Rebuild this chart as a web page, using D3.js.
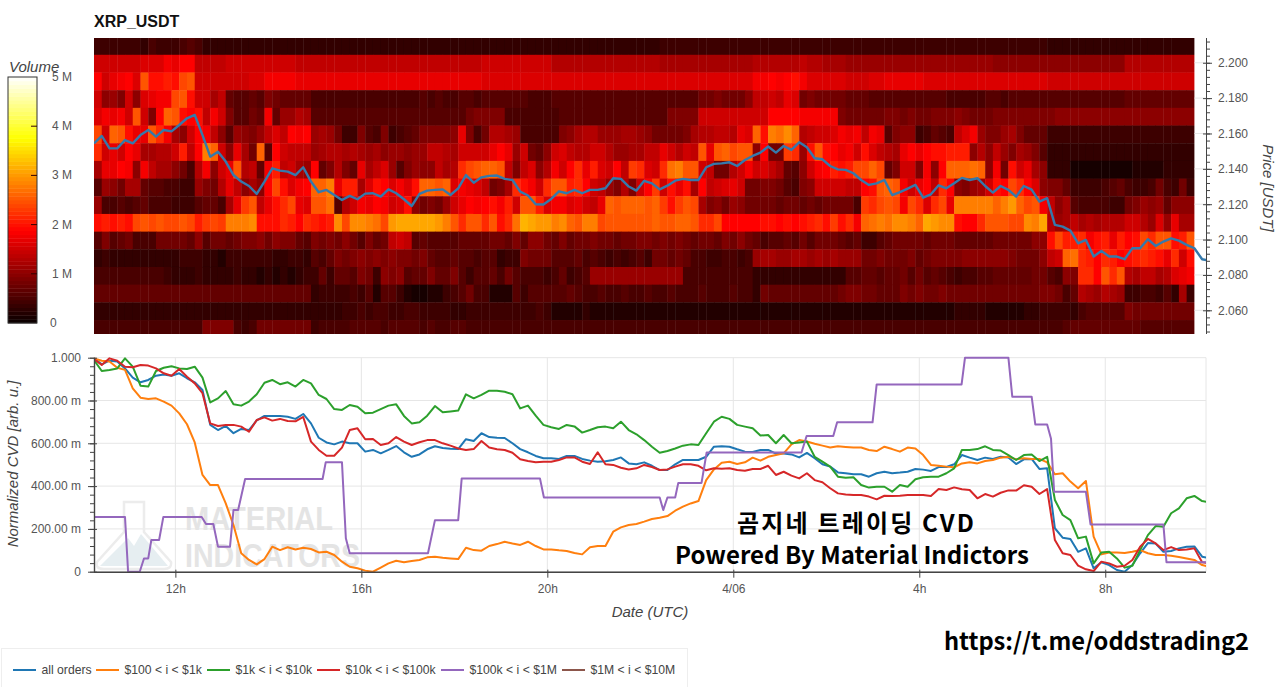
<!DOCTYPE html>
<html>
<head>
<meta charset="utf-8">
<title>XRP_USDT</title>
<script src="https://cdn.jsdelivr.net/npm/d3@7"></script>
<style>
	html, body { margin: 0; background: #fff; overflow: hidden; }
	text { font-family: 'Liberation Sans', Arial, sans-serif; fill: #444; }
	.domain { stroke: #444; }
	.tick line { stroke: #444; }
	.tick text { font-size: 12px; fill: #555; font-family: 'Liberation Sans', Arial, sans-serif; }
	.grid line { stroke: #e6e6e6; }
	.caption { font-family: 'Noto Sans CJK KR', sans-serif; font-weight: 700; fill: #000; }
</style>
</head>
<body>
<svg id="chart" width="1280" height="687"></svg>
<script>
// volume per price bin, one row per bin from the top, 10 minute columns, unit 0.1 M
const heat00 = [4,4,4,4,4,4,3,5,4,4,4,5,6,5,3,3,3,3,3,3,3,3,3,3,3,3,3,3,3,3,3,3,3,3,3,3,3,3,3,3,3,3,3,3,3,3,3,3,3,3,3,3,3,3,3,3,3,3,3,3,3,3,3,3,3,3,3,3,3,3,3,3,3,4,4,4,4,4,4,4,4,4,4,4,4,4,4,4,4,4,4,4,4,4,4,4,4,4,4,4,4,4,4,4,4,4,4,4,4,4,4,4,4,4,4,4,4,4,4,4,4,4,4,3,3,3,3,3,3,3,3,3,3,3,3,3,3,3,3,3,3,3];
const heat01 = [15,15,15,15,15,15,16,16,16,18,17,19,19,14,14,14,14,15,15,15,15,15,15,15,15,15,14,14,14,14,14,14,14,14,14,14,14,14,14,14,14,14,14,14,14,14,14,14,14,14,15,15,15,15,15,15,15,15,15,13,13,13,13,13,13,13,13,13,13,13,13,13,13,12,12,12,12,12,12,12,12,12,12,12,12,13,13,13,13,13,13,14,13,13,12,12,12,11,11,11,11,11,11,11,11,11,11,11,11,11,11,11,11,11,11,11,10,10,10,10,10,10,10,10,10,10,10,10,10,10,10,10,10,13,13,13,13,13,13,13,13,13];
const heat02 = [19,15,17,18,19,16,25,20,20,21,20,24,25,15,15,15,15,15,15,15,16,16,18,18,18,18,17,17,17,17,17,17,17,17,17,17,17,17,17,17,17,17,17,17,17,17,17,17,17,17,16,16,16,16,16,16,16,16,16,16,16,16,16,16,16,16,16,16,16,16,16,16,16,16,16,16,16,16,16,16,16,16,16,16,16,18,18,19,18,19,20,18,16,16,16,16,16,15,15,15,16,16,17,17,17,17,17,16,16,16,16,16,16,16,16,16,16,16,16,16,16,16,16,15,15,15,15,15,15,15,15,15,15,15,15,15,15,15,15,15,15,15];
const heat03 = [15,10,11,9,15,10,16,17,18,18,24,25,20,15,15,12,14,7,6,6,7,6,9,8,7,7,7,7,5,5,5,5,5,5,5,5,5,5,5,5,5,5,6,5,6,5,5,6,6,5,6,6,6,6,6,6,5,5,5,6,6,6,6,6,6,6,6,6,6,6,6,6,6,6,6,6,6,6,8,8,9,8,8,8,10,14,14,15,14,17,16,8,9,8,8,8,8,7,7,7,6,6,6,6,6,6,6,6,6,6,5,5,5,5,5,6,6,5,6,6,6,6,6,6,6,6,6,6,6,6,6,6,6,7,7,7,7,7,7,7,7,7];
const heat04 = [16,18,17,18,15,25,15,9,19,26,25,20,19,20,14,18,15,9,6,6,8,7,18,7,11,11,13,12,6,6,6,6,6,6,6,6,6,6,6,6,6,6,6,6,6,6,6,6,8,9,9,9,9,5,5,5,5,5,5,5,6,6,6,6,6,6,6,6,6,6,6,6,6,6,9,9,9,9,15,15,15,15,15,15,15,15,15,19,19,19,19,18,18,18,18,18,9,8,8,8,8,8,9,9,8,9,8,8,9,9,9,10,9,8,8,8,9,9,9,9,9,9,9,9,10,10,10,10,10,10,10,10,10,10,10,10,10,10,10,10,10,10];
const heat05 = [24,15,26,25,20,17,17,25,22,18,12,10,15,19,18,14,10,6,11,10,9,11,14,16,14,19,18,19,11,12,11,8,4,4,9,6,5,9,4,5,6,7,9,9,9,9,10,17,9,5,8,13,13,12,11,5,5,5,5,5,9,10,12,13,13,11,11,11,12,12,11,10,8,8,8,8,9,12,13,13,14,14,13,17,16,26,20,28,27,29,26,13,14,15,15,16,18,17,18,14,18,17,6,9,10,10,4,5,7,6,5,14,16,18,11,9,9,11,12,9,7,7,7,4,4,4,4,4,4,4,4,4,4,4,4,4,4,4,4,4,4,4];
const heat06 = [22,15,17,15,19,17,12,12,13,13,15,21,14,19,28,26,15,10,17,12,8,26,6,19,15,14,14,14,11,12,13,13,12,13,12,11,12,10,11,11,10,11,11,14,14,13,12,15,15,15,15,17,19,17,11,15,8,7,10,15,16,14,13,13,15,15,13,11,11,12,12,14,14,17,15,13,15,14,25,17,25,26,24,25,25,10,19,8,8,23,22,11,20,25,20,19,17,18,15,20,16,14,13,12,17,19,17,19,20,20,21,21,21,10,13,10,14,11,9,12,11,9,6,3,3,3,3,3,3,3,3,3,3,3,3,3,3,3,3,3,3,3];
const heat07 = [12,17,17,19,18,10,18,14,12,12,10,8,5,13,18,10,15,17,25,13,14,7,18,21,14,15,12,11,19,7,9,13,9,7,17,12,14,16,11,6,9,11,10,10,14,12,13,22,24,25,26,26,25,14,9,14,16,10,13,18,15,19,22,17,21,16,15,19,14,23,22,16,15,22,27,28,25,25,15,14,8,8,13,15,18,15,16,14,12,7,6,10,15,18,19,21,20,21,24,24,26,24,7,9,15,15,9,18,10,19,26,26,26,27,26,10,18,8,20,15,17,12,10,3,3,3,1,1,1,1,1,1,1,1,2,2,2,2,3,3,3,3];
const heat08 = [6,11,10,8,12,12,7,6,6,5,5,4,4,11,9,8,13,17,14,10,12,10,19,24,20,16,18,19,26,26,28,17,21,21,12,16,20,19,16,18,16,20,26,26,25,26,16,18,17,16,14,8,9,12,22,20,18,15,22,25,25,21,22,19,15,14,11,9,13,9,15,19,23,15,20,17,20,12,19,14,15,16,17,15,8,8,9,9,8,6,5,9,10,15,15,15,15,14,14,19,20,25,26,25,18,15,17,19,14,22,19,10,9,11,12,15,20,19,24,22,19,16,10,9,9,7,4,4,4,4,5,6,7,5,4,4,5,8,5,4,8,4];
const heat09 = [11,5,5,6,5,6,7,5,5,5,4,4,4,6,7,7,5,12,17,23,25,14,17,20,22,24,17,16,25,25,27,6,13,15,18,17,19,18,15,16,20,10,8,9,8,11,15,17,19,18,19,20,18,21,15,25,25,21,16,18,18,16,17,15,14,17,26,25,26,26,26,25,26,23,20,23,25,24,12,9,10,8,11,10,8,8,8,8,7,8,8,7,8,7,8,8,8,8,5,23,22,24,25,24,18,24,22,16,22,24,17,28,28,28,28,28,26,28,30,26,24,25,18,14,10,12,6,5,5,5,5,4,4,8,9,11,10,11,7,10,10,10];
const heat10 = [20,21,20,21,20,24,25,24,25,24,24,25,24,21,23,24,23,28,28,28,29,20,20,20,22,21,19,22,21,20,21,29,24,29,29,28,27,24,30,31,31,31,31,31,30,28,25,22,25,25,22,25,20,22,27,32,31,30,30,28,29,26,25,28,28,24,25,25,25,25,25,25,26,25,25,26,26,25,22,22,24,19,19,19,19,19,20,20,19,20,19,20,21,22,20,23,20,22,18,26,27,28,27,29,29,28,26,31,30,29,29,20,19,19,22,25,25,25,24,24,29,28,31,13,11,12,14,12,13,12,13,13,13,15,15,13,11,16,11,17,12,12];
const heat11 = [6,9,6,7,8,5,5,5,8,8,8,8,7,10,6,8,8,7,8,9,9,10,8,10,9,9,7,6,9,8,9,8,10,8,6,9,7,8,14,15,14,6,7,6,6,6,6,7,7,7,7,8,8,7,9,7,10,10,8,7,9,7,8,8,9,8,8,7,8,8,9,9,8,9,8,9,8,7,8,8,7,9,8,10,8,7,5,6,6,7,6,8,6,8,8,8,7,6,7,4,4,6,7,8,8,8,8,7,8,8,8,7,7,7,7,7,8,8,8,8,8,10,10,20,24,21,21,22,18,20,21,17,21,19,20,24,22,25,25,20,21,25];
const heat12 = [3,4,3,3,3,3,3,3,3,3,3,4,4,4,3,3,2,4,4,4,4,4,4,3,3,4,4,3,6,5,7,9,8,9,10,9,10,9,10,9,9,8,9,7,6,6,7,6,6,5,6,6,3,4,4,9,8,8,8,6,6,6,7,5,6,5,4,5,4,5,6,4,8,8,7,8,7,5,5,4,4,5,5,4,5,11,12,12,11,11,12,12,11,12,11,12,11,11,11,8,8,9,8,8,8,9,7,8,9,9,9,9,10,10,10,10,10,10,9,8,8,8,10,14,15,26,27,22,21,19,22,21,19,20,21,22,21,20,17,22,15,20];
const heat13 = [5,5,5,5,5,5,5,5,5,4,3,3,3,4,3,3,3,3,4,3,3,2,3,2,3,2,3,4,4,7,4,7,7,6,9,8,4,10,9,10,6,7,7,9,7,7,9,6,4,6,6,7,5,8,6,5,5,5,4,5,7,4,5,6,11,11,11,11,11,11,11,11,11,11,11,11,5,5,5,5,5,5,5,5,5,3,3,3,3,3,3,3,3,3,3,3,3,6,6,7,7,6,7,7,8,6,8,6,7,6,5,4,5,5,6,6,7,7,7,7,7,8,8,6,5,10,9,22,22,19,25,22,25,13,12,14,14,12,13,16,17,18];
const heat14 = [7,7,7,7,7,7,7,7,7,7,7,7,7,7,7,7,7,7,7,7,7,7,7,7,7,7,7,7,3,4,4,4,4,5,4,6,2,6,6,4,2,1,1,2,2,4,5,6,8,5,5,2,2,2,6,4,6,6,6,6,6,7,6,5,5,6,5,5,6,5,5,6,5,5,6,5,5,5,6,5,5,5,6,5,5,3,8,7,7,7,7,7,7,7,7,7,8,9,9,8,8,7,7,7,9,8,9,8,8,9,8,8,8,8,8,8,8,8,8,8,8,8,9,9,8,5,7,13,12,11,13,12,11,4,4,5,5,4,6,3,12,4];
const heat15 = [3,3,3,3,3,3,3,3,3,3,3,3,3,3,3,3,3,3,3,3,3,3,3,3,3,3,3,3,3,3,3,3,4,4,5,4,5,5,4,4,5,5,4,4,4,4,3,3,4,4,4,4,4,4,4,4,4,5,4,2,2,2,2,3,2,2,2,2,2,2,2,2,2,2,2,2,2,2,2,2,2,2,2,2,2,2,2,2,2,2,2,2,2,2,2,2,2,2,2,2,2,2,2,2,2,2,2,2,2,2,2,3,3,3,3,2,2,2,2,2,3,3,4,4,4,4,3,5,6,6,6,6,6,9,8,8,8,8,8,8,8,8];
const heat16 = [5,5,5,5,5,5,5,5,5,5,5,5,5,5,9,9,9,9,5,4,5,8,8,8,8,8,8,8,4,5,5,5,5,6,6,6,6,5,6,6,6,6,5,6,5,5,6,6,5,5,5,5,5,5,5,5,5,5,5,5,5,5,5,5,5,5,5,5,5,5,5,5,5,5,5,5,5,5,5,5,5,5,5,5,5,5,5,5,5,5,5,5,5,5,5,5,5,5,5,5,5,5,5,5,5,5,5,5,5,5,5,5,5,5,5,5,5,5,5,5,5,5,5,5,5,6,7,7,7,7,7,7,7,7,7,6,6,6,6,6,6,6];
const heatRows = [heat00, heat01, heat02, heat03, heat04, heat05, heat06, heat07, heat08, heat09, heat10, heat11, heat12, heat13, heat14, heat15, heat16];

// every 10 minutes from 10:15
const price = [2.1544,2.1586,2.1516,2.1516,2.1563,2.1544,2.1591,2.1620,2.1582,2.1620,2.1612,2.1648,2.1686,2.1705,2.1591,2.1469,2.1497,2.1441,2.1365,2.1328,2.1303,2.1258,2.1328,2.1403,2.1390,2.1384,2.1365,2.1409,2.1328,2.1268,2.1281,2.1252,2.1224,2.1247,2.1228,2.1260,2.1262,2.1243,2.1284,2.1262,2.1228,2.1190,2.1258,2.1277,2.1281,2.1284,2.1252,2.1290,2.1365,2.1322,2.1352,2.1360,
	2.1362,2.1343,2.1337,2.1271,2.1249,2.1200,2.1198,2.1230,2.1273,2.1262,2.1281,2.1262,2.1281,2.1281,2.1290,2.1347,2.1343,2.1300,2.1277,2.1332,2.1318,2.1284,2.1305,2.1333,2.1343,2.1337,2.1337,2.1409,2.1428,2.1431,2.1437,2.1416,2.1450,2.1473,2.1492,2.1526,2.1492,2.1529,2.1507,2.1550,2.1522,2.1460,2.1454,2.1416,2.1397,2.1394,2.1375,2.1337,2.1309,2.1318,
	2.1337,2.1252,2.1268,2.1288,2.1309,2.1237,2.1256,2.1307,2.1290,2.1318,2.1349,2.1337,2.1347,2.1303,2.1266,2.1303,2.1281,2.1243,2.1303,2.1283,2.1215,2.1234,2.1083,2.1073,2.1051,2.0979,2.0998,2.0904,2.0936,2.0904,2.0904,2.0889,2.0951,2.0951,2.1002,2.0964,2.0989,2.1007,2.0994,2.0970,2.0951,2.0889,2.0881];

// normalized CVD in milli units, same 10 minute steps
const allOrders = [997,969,986,982,950,907,885,896,916,922,916,927,904,885,849,686,662,681,647,667,662,707,728,728,728,724,714,737,693,626,604,595,608,600,600,561,569,553,569,587,558,537,548,572,
	586,578,575,573,619,611,647,629,626,625,600,573,558,541,530,530,527,541,541,527,519,514,516,522,534,506,502,511,495,475,475,502,522,522,522,537,584,586,584,572,561,559,569,569,552,552,548,534,555,530,502,491,464,460,455,
	455,444,460,467,460,463,467,480,477,471,489,489,502,545,533,522,533,527,537,534,503,525,527,480,483,203,159,153,93,109,16,44,31,8,0,31,86,134,132,93,97,109,117,118,70,62];
const range100 = [997,986,982,953,943,857,813,807,810,795,776,740,689,604,452,405,405,319,218,86,55,34,59,117,101,114,104,112,106,90,93,78,47,23,16,5,0,19,39,51,44,50,55,67,
	70,65,62,59,112,101,98,120,129,140,132,125,140,120,104,104,100,97,87,81,114,120,120,187,207,218,223,234,246,252,260,285,304,319,330,428,478,509,514,503,511,533,519,537,545,553,595,615,608,598,589,580,586,583,580,
	580,569,564,584,573,561,580,576,545,499,495,491,488,506,511,506,517,522,533,537,525,530,527,527,511,455,460,421,390,424,164,81,90,90,87,93,101,86,78,78,75,69,62,55,31,23];
const range1k = [989,938,943,950,997,958,869,865,938,953,960,950,947,958,907,791,810,844,782,776,795,829,883,896,876,885,865,896,880,826,807,760,756,779,771,740,743,760,776,782,728,693,698,729,
	774,745,749,753,829,810,826,846,846,841,829,763,776,729,686,675,667,686,679,650,662,675,678,670,701,662,642,615,584,556,564,576,589,595,592,647,701,724,714,686,678,670,636,639,600,639,600,604,608,537,514,491,444,439,441,
	405,393,397,397,374,405,397,432,441,444,444,460,483,569,569,573,586,569,566,545,522,545,548,517,537,335,265,241,156,164,39,90,93,62,19,28,101,171,213,210,273,296,343,354,330,324];
const range10k = [994,966,997,986,958,955,966,963,950,927,916,947,911,880,834,693,681,686,686,678,654,709,721,706,714,704,703,723,608,569,542,542,580,662,670,619,620,592,600,629,608,592,605,615,
	615,600,589,576,569,573,611,580,572,569,556,525,517,511,514,514,522,534,534,514,503,558,502,499,486,478,483,499,489,475,478,491,502,502,495,474,483,481,483,475,472,480,480,495,452,467,449,436,460,428,418,390,366,361,358,
	358,351,338,355,354,355,358,358,358,354,386,382,394,385,382,343,363,351,369,380,379,404,397,363,386,148,86,78,28,11,3,47,39,23,28,55,117,153,132,101,115,101,104,109,44,39];
// step-like series, kept as minutes from the start plus level at that minute
const range100kMin = [0,40,44,59,64.5,70,74,84,89.5,139,144.5,154,160,175.5,180,186,195,295,299,320,325,330,431,440,470,474.5,575.5,580.6,730,734.6,740,750,754,784,790.6,913,919.6,954,959,1004.7,1010,1119.6,1124,1180,1185,1210,1214.7,1230,1235,1239,1280,1286,1380,1384,1435];
const range100k = [256,256,0,0,62,62,148,148,256,256,223,223,117,117,288,288,433,433,511,511,156,86,86,241,241,436,436,347,347,288,347,347,415,415,557,557,634,634,698,698,875,875,1000,1000,818,818,688,688,621,374,374,221,221,44,44];
const range1M = [];

const seriesNames = ['all orders', '$100 < i < $1k', '$1k < i < $10k', '$10k < i < $100k', '$100k < i < $1M', '$1M < i < $10M'];
const seriesColors = ['#1f77b4', '#ff7f0e', '#2ca02c', '#d62728', '#9467bd', '#8c564b'];
const legendLineX = [13, 96, 207, 317, 441, 562];

const priceTicks = [2.06, 2.08, 2.10, 2.12, 2.14, 2.16, 2.18, 2.20];
const cvdTicks = [0, 200, 400, 600, 800, 1000];
const cvdTickLabels = ['0', '200.00 m', '400.00 m', '600.00 m', '800.00 m', '1.000'];
const timeTicks = [105, 345, 585, 825, 1065, 1305];
const timeTickLabels = ['12h', '16h', '20h', '4/06', '4h', '8h'];
const volumeTicks = [0, 1, 2, 3, 4, 5];
const volumeTickLabels = ['0', '1 M', '2 M', '3 M', '4 M', '5 M'];

const BIN_SIZE = 0.01;
const FIRST_BIN_TOP = 2.2145;
const STEP_MIN = 10;

const scale = {
	x: d3.scaleLinear().domain([0, 1435]).range([94, 1206]),
	price: d3.scaleLinear().domain([2.214, 2.0466]).range([38, 334]),
	cvd: d3.scaleLinear().domain([0, 1000]).range([571.7, 357.7]),
	volume: d3.scaleLinear().domain([0, 5]).range([323, 77]),
	color: d3.scaleLinear()
		.domain([0, 1.875, 3.75, 5])
		.range(['#080000', '#ff0000', '#ffff00', '#ffffff'])
		.clamp(true)
};

const $svg = d3.select('#chart');

function setupDefs() {
	const $defs = $svg.append('defs');
	$defs.append('clipPath').attr('id', 'clip-top')
		.append('rect').attr('x', 94).attr('y', 38).attr('width', 1112).attr('height', 296);
	$defs.append('clipPath').attr('id', 'clip-heat')
		.append('rect').attr('x', 94).attr('y', 38).attr('width', 1100.4).attr('height', 296);
	$defs.append('clipPath').attr('id', 'clip-bottom')
		.append('rect').attr('x', 94).attr('y', 354).attr('width', 1112).attr('height', 218);
	// the reference is a soft screenshot, cells bleed a little into each other
	$defs.append('filter').attr('id', 'soft')
		.attr('filterUnits', 'userSpaceOnUse')
		.attr('x', 80).attr('y', 20).attr('width', 1140).attr('height', 330)
		.append('feGaussianBlur').attr('stdDeviation', '0.7 0.4');
}

function renderHeatmap() {
	const $clip = $svg.append('g').attr('clip-path', 'url(#clip-heat)');
	const $heat = $clip.append('g').attr('filter', 'url(#soft)');
	const cellW = scale.x(STEP_MIN) - scale.x(0);
	heatRows.forEach((row, r) => {
		const top = FIRST_BIN_TOP - r * BIN_SIZE;
		$heat.append('g').selectAll('rect').data(row).join('rect')
			.attr('x', (d, i) => scale.x(i * STEP_MIN) - (i === 0 ? 3 : 0))
			.attr('y', scale.price(top) - (r === 0 ? 4 : 0))
			.attr('width', (d, i) => cellW + (i === row.length - 1 ? 3 : 0.4) + (i === 0 ? 3 : 0))
			.attr('height', scale.price(top - BIN_SIZE) - scale.price(top) + (r === 16 ? 4 : 0.4) + (r === 0 ? 4 : 0))
			.attr('fill', d => scale.color(d / 10));
	});

	const line = d3.line()
		.x((d, i) => scale.x(i * STEP_MIN))
		.y(d => scale.price(d));
	$svg.append('g').attr('clip-path', 'url(#clip-top)')
		.append('path')
		.attr('d', line(price))
		.attr('fill', 'none')
		.attr('stroke', '#3579ab')
		.attr('stroke-width', 2.4)
		.attr('stroke-linejoin', 'round');
}

function renderPriceAxis() {
	const $grid = $svg.append('g').attr('class', 'grid');
	$grid.selectAll('line').data(priceTicks).join('line')
		.attr('x1', 1194.5).attr('x2', 1206)
		.attr('y1', d => scale.price(d)).attr('y2', d => scale.price(d));

	const minor = d3.range(2.048, 2.2145, 0.004);
	const $minor = $svg.append('g').attr('transform', 'translate(1206,0)')
		.call(d3.axisRight(scale.price).tickValues(minor).tickSize(4).tickFormat(''));
	$minor.select('.domain').remove();

	const $axis = $svg.append('g').attr('transform', 'translate(1206,0)')
		.call(d3.axisRight(scale.price).tickValues(priceTicks).tickSize(6).tickPadding(6).tickFormat(d3.format('.3f')));
	$axis.selectAll('.tick line').attr('x1', -3);
	$axis.select('.domain').attr('d', 'M0.5,38V334');

	$svg.append('text')
		.attr('transform', 'translate(1263,188) rotate(90)')
		.attr('text-anchor', 'middle')
		.attr('font-size', 15)
		.attr('font-style', 'italic')
		.text('Price [USDT]');
}

function renderColorbar() {
	const steps = d3.range(0, 5, 5 / 64);
	$svg.append('g').selectAll('rect').data(steps).join('rect')
		.attr('x', 8).attr('width', 29)
		.attr('y', d => scale.volume(d + 5 / 64))
		.attr('height', scale.volume(0) - scale.volume(5 / 64) + 0.4)
		.attr('fill', d => scale.color(d + 2.5 / 64));
	$svg.append('rect')
		.attr('x', 8).attr('y', 77).attr('width', 29).attr('height', 246)
		.attr('fill', 'none').attr('stroke', '#333');

	$svg.append('g').selectAll('line').data(volumeTicks.slice(1, -1)).join('line')
		.attr('x1', 31).attr('x2', 37)
		.attr('y1', d => scale.volume(d)).attr('y2', d => scale.volume(d))
		.attr('stroke', '#300');
	$svg.append('g').selectAll('text').data(volumeTicks).join('text')
		.attr('x', d => d === 0 ? 50 : 52)
		.attr('y', d => scale.volume(d) + 4)
		.attr('font-size', 12)
		.style('fill', '#555')
		.text((d, i) => volumeTickLabels[i]);
	$svg.append('text')
		.attr('x', 9).attr('y', 72)
		.attr('font-size', 15)
		.attr('font-style', 'italic')
		.text('Volume');
}

function renderWatermark() {
	const $mark = $svg.append('g');
	$mark.append('path')
		.attr('d', 'M100,566 L128,538 L134,546 L141,534 L168,566 Z')
		.attr('fill', '#e6eef1');
	$mark.append('path')
		.attr('d', 'M124,502 H144 V532 L171,562 Q172,569 164,569 H104 Q95,569 97,562 L124,532 Z')
		.attr('fill', 'none')
		.attr('stroke', '#ececec')
		.attr('stroke-width', 2.5);
	$mark.append('text').attr('x', 185).attr('y', 530)
		.attr('font-size', 33).attr('font-weight', 700)
		.attr('textLength', 148).attr('lengthAdjust', 'spacingAndGlyphs')
		.style('fill', '#e4e4e4')
		.text('MATERIAL');
	$mark.append('text').attr('x', 185).attr('y', 567)
		.attr('font-size', 33).attr('font-weight', 700)
		.attr('textLength', 175).attr('lengthAdjust', 'spacingAndGlyphs')
		.style('fill', '#e4e4e4')
		.text('INDICATORS');
}

function renderCvdAxes() {
	const $grid = $svg.append('g').attr('class', 'grid');
	$grid.selectAll('line.h').data(cvdTicks).join('line')
		.attr('class', 'h')
		.attr('x1', 94).attr('x2', 1206)
		.attr('y1', d => scale.cvd(d)).attr('y2', d => scale.cvd(d));
	$grid.selectAll('line.v').data(timeTicks).join('line')
		.attr('class', 'v')
		.attr('x1', d => scale.x(d)).attr('x2', d => scale.x(d))
		.attr('y1', 357.7).attr('y2', 571.7);
	$grid.append('line')
		.attr('x1', 1206).attr('x2', 1206)
		.attr('y1', 357.7).attr('y2', 571.7);

	renderWatermark();
}

function renderCvdLines() {
	const line = d3.line()
		.x((d, i) => scale.x(i * STEP_MIN))
		.y(d => scale.cvd(d));
	const stepLine = d3.line()
		.x((d, i) => scale.x(range100kMin[i]))
		.y(d => scale.cvd(d));

	const $lines = $svg.append('g')
		.attr('clip-path', 'url(#clip-bottom)')
		.attr('fill', 'none')
		.attr('stroke-width', 2)
		.attr('stroke-linejoin', 'round');
	[allOrders, range100, range1k, range10k].forEach((d, i) => {
		$lines.append('path').attr('d', line(d)).attr('stroke', seriesColors[i]);
	});
	$lines.append('path').attr('d', stepLine(range100k)).attr('stroke', seriesColors[4]);
	$lines.append('path').attr('d', line(range1M)).attr('stroke', seriesColors[5]);

	const minor = d3.range(0, 1001, 40);
	const $minor = $svg.append('g').attr('transform', 'translate(94,0)')
		.call(d3.axisLeft(scale.cvd).tickValues(minor).tickSize(4).tickFormat(''));
	$minor.select('.domain').remove();

	const $yAxis = $svg.append('g').attr('transform', 'translate(94,0)')
		.call(d3.axisLeft(scale.cvd).tickValues(cvdTicks).tickSize(6).tickPadding(7)
			.tickFormat((d, i) => cvdTickLabels[i]));
	$yAxis.selectAll('.tick line').attr('x1', 3);
	$yAxis.select('.domain').attr('d', 'M0.5,357.7V572').attr('stroke-width', 1.4);

	const $xAxis = $svg.append('g').attr('transform', 'translate(0,571.7)')
		.call(d3.axisBottom(scale.x).tickValues(timeTicks).tickSize(6).tickPadding(7)
			.tickFormat((d, i) => timeTickLabels[i]));
	$xAxis.selectAll('.tick line').attr('y1', -2);
	$xAxis.select('.domain').attr('d', 'M94,0.5H1206').attr('stroke-width', 1.6).attr('stroke', '#555');

	$svg.append('text')
		.attr('transform', 'translate(18,464) rotate(-90)')
		.attr('text-anchor', 'middle')
		.attr('font-size', 15)
		.attr('font-style', 'italic')
		.text('Normalized CVD [arb. u.]');
	$svg.append('text')
		.attr('x', 650).attr('y', 617)
		.attr('text-anchor', 'middle')
		.attr('font-size', 15)
		.attr('font-style', 'italic')
		.text('Date (UTC)');
}

function renderLegend() {
	$svg.append('rect')
		.attr('x', 1.5).attr('y', 648.5).attr('width', 686).attr('height', 40)
		.attr('fill', '#fff').attr('stroke', '#eee');
	const $item = $svg.append('g').selectAll('g').data(seriesNames).join('g');
	$item.append('line')
		.attr('x1', (d, i) => legendLineX[i])
		.attr('x2', (d, i) => legendLineX[i] + 23)
		.attr('y1', 670).attr('y2', 670)
		.attr('stroke-width', 2)
		.attr('stroke', (d, i) => seriesColors[i]);
	$item.append('text')
		.attr('x', (d, i) => legendLineX[i] + 28.5)
		.attr('y', 674)
		.attr('font-size', 12.2)
		.text(d => d);
}

function renderCaptions() {
	$svg.append('text')
		.attr('x', 94).attr('y', 27)
		.attr('font-size', 16)
		.attr('font-weight', 700)
		.style('fill', '#111')
		.text('XRP_USDT');
	$svg.append('text').attr('class', 'caption')
		.attr('x', 737).attr('y', 532)
		.attr('font-size', 24)
		.attr('textLength', 237)
		.text('곰지네 트레이딩 CVD');
	$svg.append('text').attr('class', 'caption')
		.attr('x', 675).attr('y', 564)
		.attr('font-size', 24)
		.attr('textLength', 354)
		.text('Powered By Material Indictors');
	$svg.append('text').attr('class', 'caption')
		.attr('x', 944).attr('y', 650)
		.attr('font-size', 23.7)
		.attr('textLength', 305)
		.text('https://t.me/oddstrading2');
}

function init() {
	setupDefs();
	renderHeatmap();
	renderPriceAxis();
	renderColorbar();
	renderCvdAxes();
	renderCvdLines();
	renderLegend();
	renderCaptions();
}

init();
</script>
</body>
</html>
